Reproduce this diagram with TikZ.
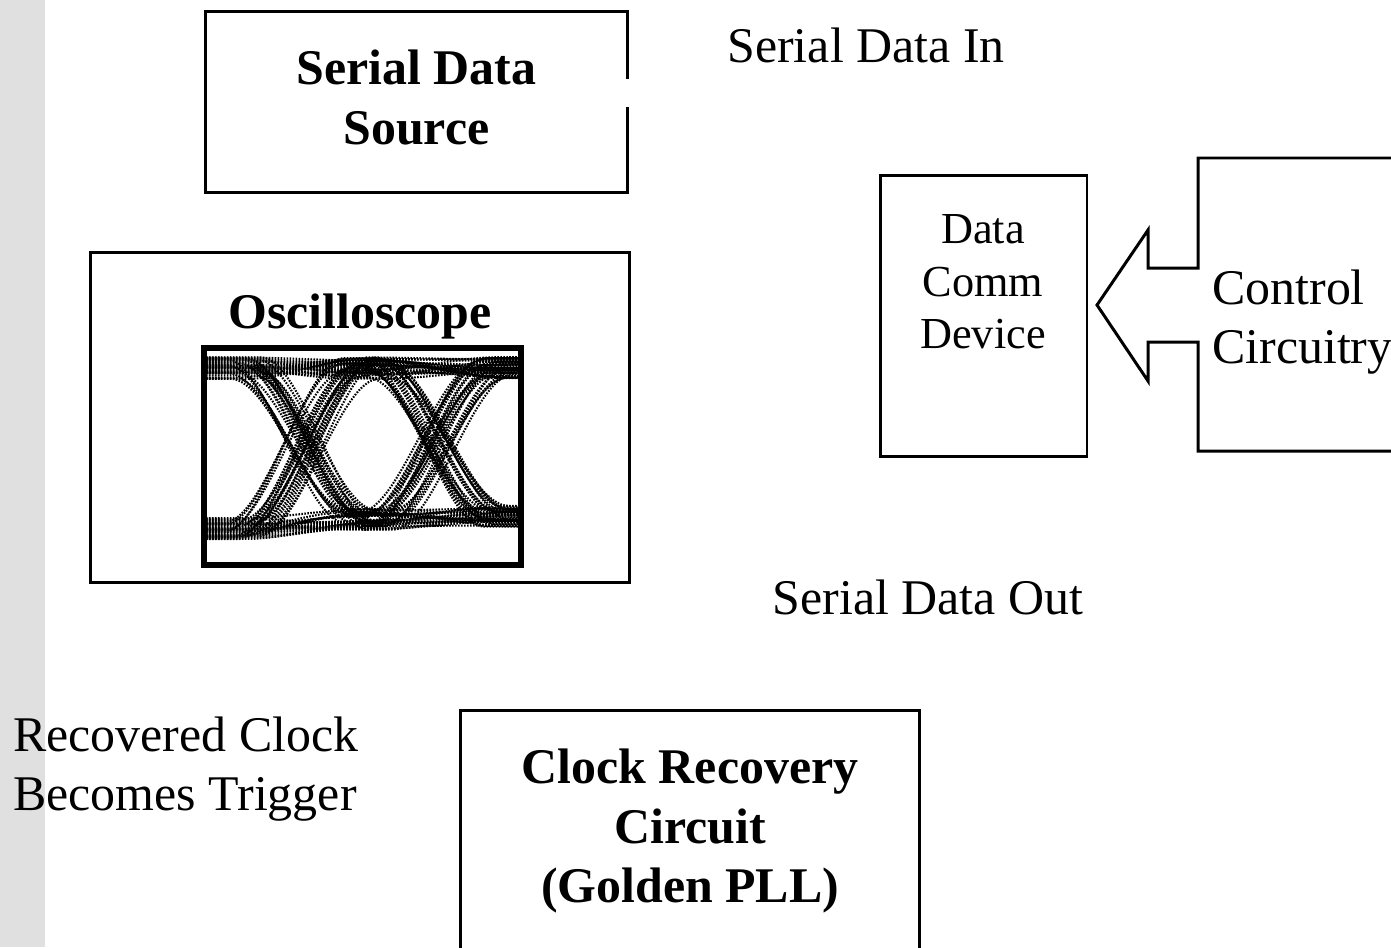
\documentclass[tikz,border=0pt]{standalone}
\usepackage{fontspec}
\setmainfont{Liberation Serif}
\usetikzlibrary{positioning}
\definecolor{stripgray}{gray}{0.88}
\tikzstyle{instrument} = [rectangle, draw=black, line width=1.7pt, inner sep=0pt, text centered, align=center]
\tikzstyle{bigtext} = [font=\fontsize{28.4}{34}\selectfont, align=center, inner sep=0pt]
\tikzstyle{smalltext} = [font=\fontsize{25.2}{30}\selectfont, align=center, inner sep=0pt]
\tikzstyle{screen} = [rectangle, draw=black, line width=3.2pt, fill=white, minimum width=6.34cm, minimum height=4.34cm]
\tikzstyle{trace} = [line width=1.2pt, dash pattern=on 0.9pt off 0.8pt]

\begin{document}
\begin{tikzpicture}[x=0.02cm, y=-0.02cm]
  \useasboundingbox (0,0) rectangle (1391,947);
  \clip (0,0) rectangle (1391,947);
  \fill[stripgray] (0,0) rectangle (45,947);

  \node (src) [instrument, minimum width=8.46cm, minimum height=3.64cm] at (416.5,102) {};
  \node (srctext) [bigtext, font=\fontsize{28.4}{34}\selectfont\bfseries] at (416.5,97.5) {Serial Data\\Source};
  \draw[white, line width=2.5pt] (628,79) -- (628,107);
  \node (sdin) [bigtext] at (866,45) {Serial Data In};

  \node (osc) [instrument, minimum width=10.8cm, minimum height=6.62cm] at (360,417.5) {};
  \node (osctitle) [bigtext, font=\fontsize{28.4}{34}\selectfont\bfseries] at (360,316) {Oscilloscope};
  \node (scr) [screen] at (362.5,456.5) {};
  % eye diagram
  \begin{scope}
    \clip (scr.south west) rectangle (scr.north east);
    \pgfmathsetseed{42}
    \foreach \a/\b/\c in {0/0/0,0/0/1,0/1/0,0/1/1,1/0/0,1/0/1,1/1/0,1/1/1}{
      \foreach \k in {1,...,11}{
        \pgfmathsetmacro\ya{368+160*\a+rand*11}
        \pgfmathsetmacro\yb{368+152*\b+rand*11}
        \pgfmathsetmacro\yc{368+148*\c+rand*11}
        \pgfmathsetmacro\dx{rand*20}
        \pgfmathsetmacro\dy{rand*18}
        \draw[trace] (200,\ya) -- ({243+\dx},\ya) .. controls ({283+\dx},\ya) and ({323+\dx},\yb) .. ({363+\dx},\yb)
          -- ({377+\dy},\yb) .. controls ({417+\dy},\yb) and ({457+\dy},\yc) .. ({497+\dy},\yc) -- (525,\yc);
      }
    }
  \end{scope}
  \node[screen, fill=none] at (scr) {};

  \node (dcd) [instrument, minimum width=4.14cm, minimum height=5.64cm] at (983.5,316) {};
  \node (dcdtext) [smalltext] at (983,282) {Data\\Comm\\Device};

  % control block with arrow into the device
  \draw[line width=1.7pt] (1460,158) -| (1198,268) -- (1148,268) -- (1148,230) -- (1097,305)
    -- (1148,381) -- (1148,342) -- (1198,342) |- (1460,451);
  \node (ctl) [bigtext, align=left, anchor=west] at (1212,322) {Control\\Circuitry};

  \node (sdout) [bigtext] at (928,597) {Serial Data Out};
  \node (rclk) [bigtext, align=left, anchor=west] at (13,769) {Recovered Clock\\Becomes Trigger};

  \node (crc) [instrument, minimum width=9.2cm, minimum height=6cm, anchor=north] at (690,709) {};
  \node (crctext) [bigtext, font=\fontsize{28.4}{34}\selectfont\bfseries] at (690,831) {Clock Recovery\\Circuit\\(Golden PLL)};
\end{tikzpicture}
\end{document}
